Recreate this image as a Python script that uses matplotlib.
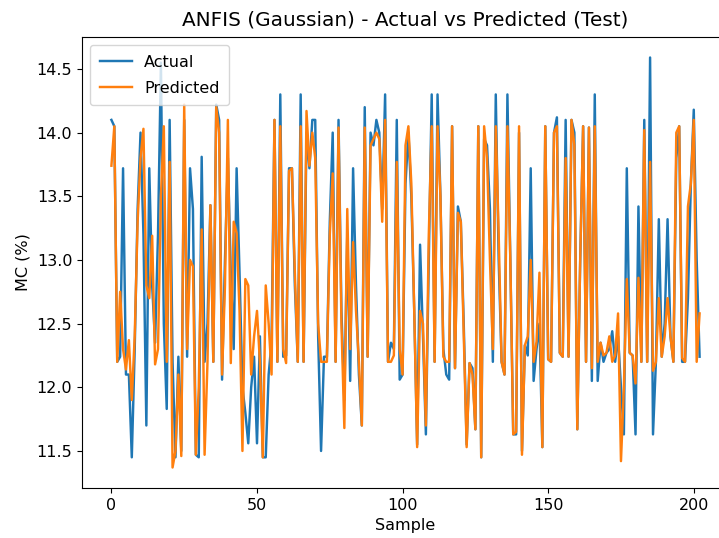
import matplotlib
matplotlib.use("Agg")
import matplotlib.pyplot as plt
import numpy as np

actual = [
    14.10, 14.05, 12.20, 12.24, 13.72, 12.10, 12.10, 11.45, 12.30, 13.40,
    14.00, 13.20, 11.70, 13.72, 12.80, 12.35, 13.20, 14.55, 12.50, 11.83,
    14.10, 12.20, 11.45, 12.24, 11.50, 14.10, 12.24, 13.72, 13.40, 11.47,
    11.45, 13.81, 12.20, 12.50, 13.43, 12.20, 14.22, 14.10, 12.06, 13.00,
    13.80, 12.90, 12.30, 13.72, 12.90, 12.00, 11.80, 11.56, 12.00, 12.24,
    11.56, 12.40, 11.45, 11.45, 12.10, 12.36, 14.10, 12.20, 14.30, 12.24,
    12.25, 13.72, 13.72, 12.80, 12.20, 14.30, 12.20, 14.00, 13.72, 14.10,
    14.10, 12.40, 11.50, 12.24, 12.24, 13.30, 14.00, 12.20, 14.10, 12.60,
    11.90, 13.20, 12.05, 13.72, 12.80, 12.10, 11.70, 14.20, 12.24, 14.00,
    13.90, 14.10, 14.00, 13.40, 14.30, 12.20, 12.35, 12.30, 14.10, 12.06,
    12.10, 13.60, 14.00, 13.50, 12.60, 11.55, 13.12, 12.40, 11.63, 13.00,
    14.30, 12.20, 14.30, 13.50, 12.30, 12.10, 12.06, 14.05, 12.15, 13.42,
    13.30, 12.50, 11.55, 12.19, 12.15, 11.67, 14.05, 11.45, 13.95, 13.90,
    13.40, 12.20, 14.30, 13.00, 12.20, 12.10, 14.30, 13.00, 11.63, 11.63,
    14.00, 11.50, 12.33, 12.25, 13.72, 12.05, 12.30, 12.50, 11.53, 14.05,
    12.22, 12.20, 14.00, 14.12, 12.27, 12.24, 14.10, 12.24, 14.10, 14.00,
    11.67, 13.00, 14.05, 12.20, 14.04, 12.05, 14.30, 12.05, 12.35, 12.20,
    12.27, 12.30, 12.44, 12.20, 12.40, 12.00, 11.63, 13.72, 12.27, 12.25,
    11.63, 13.42, 12.20, 14.10, 12.20, 14.59, 11.63, 12.20, 13.32, 12.24,
    12.50, 13.32, 12.40, 12.20, 13.80, 14.05, 12.20, 12.20, 12.70, 13.60,
    14.18, 13.00, 12.24,
]

predicted = [
    13.74, 14.05, 12.20, 12.75, 12.30, 12.14, 12.37, 11.90, 12.40, 13.30,
    13.80, 14.03, 12.80, 12.70, 13.19, 12.18, 12.30, 13.50, 14.05, 12.20,
    13.77, 11.37, 11.50, 12.10, 11.46, 14.22, 12.30, 13.00, 12.95, 11.47,
    12.00, 13.24, 11.47, 12.20, 13.43, 12.20, 14.20, 14.00, 12.10, 12.80,
    14.10, 12.19, 13.30, 13.21, 12.60, 11.50, 12.85, 12.80, 12.10, 12.40,
    12.60, 12.20, 11.45, 12.80, 12.50, 12.10, 14.10, 12.20, 14.05, 12.30,
    12.19, 13.70, 13.72, 12.90, 12.20, 14.05, 12.20, 14.17, 13.74, 14.00,
    13.80, 12.50, 12.20, 12.20, 12.20, 13.20, 13.68, 12.20, 14.04, 12.50,
    11.68, 13.40, 12.30, 13.14, 12.60, 12.20, 11.70, 14.04, 12.24, 13.90,
    13.95, 14.00, 13.95, 13.30, 14.10, 12.20, 12.20, 12.25, 13.77, 12.30,
    12.10, 13.90, 14.05, 13.60, 12.60, 11.53, 12.60, 12.50, 11.70, 13.20,
    14.05, 12.20, 14.05, 13.50, 12.24, 12.20, 12.20, 14.05, 12.15, 13.37,
    13.30, 12.40, 11.53, 12.19, 12.10, 11.67, 14.05, 11.45, 14.05, 13.80,
    13.00, 12.30, 14.05, 13.20, 12.20, 12.10, 14.05, 13.00, 11.63, 11.65,
    14.05, 11.47, 12.33, 12.40, 13.00, 12.20, 12.36, 12.90, 11.53, 14.05,
    12.22, 12.20, 14.00, 14.05, 12.27, 12.24, 13.80, 12.24, 14.10, 13.90,
    11.67, 13.00, 14.05, 12.20, 14.04, 12.15, 14.05, 12.20, 12.35, 12.25,
    12.27, 12.40, 12.20, 12.25, 12.58, 11.42, 12.00, 12.85, 12.27, 12.25,
    12.03, 12.86, 12.20, 14.02, 12.20, 13.77, 12.13, 12.20, 12.70, 12.24,
    12.40, 12.70, 12.40, 12.20, 14.00, 14.05, 12.23, 12.20, 13.42, 13.60,
    14.10, 12.20, 12.58,
]

title = "ANFIS (Gaussian) - Actual vs Predicted (Test)"
xlabel = "Sample"
ylabel = "MC (%)"

W, H = 719, 538
fig = plt.figure(figsize=(W / 100, H / 100), dpi=100)
ax = fig.add_axes([82 / W, 1 - 488 / H, (729 - 82) / W, (488 - 37) / H])

x = np.arange(len(actual))
ax.plot(x, actual, color="#1f77b4", lw=1.75, label="Actual")
ax.plot(x, predicted, color="#ff7f0e", lw=1.75, label="Predicted")

ax.set_title(title, fontsize=14.4, pad=8.5)
ax.set_xlabel(xlabel, fontsize=11.5)
ax.set_ylabel(ylabel, fontsize=11.5)
ax.tick_params(labelsize=11.5)
ax.set_xticks([0, 50, 100, 150, 200])
ax.set_yticks([11.5, 12.0, 12.5, 13.0, 13.5, 14.0, 14.5])
ax.legend(loc="upper left", fontsize=11.5, labelspacing=0.7, borderpad=0.6)

fig.savefig("out.png", dpi=100)
